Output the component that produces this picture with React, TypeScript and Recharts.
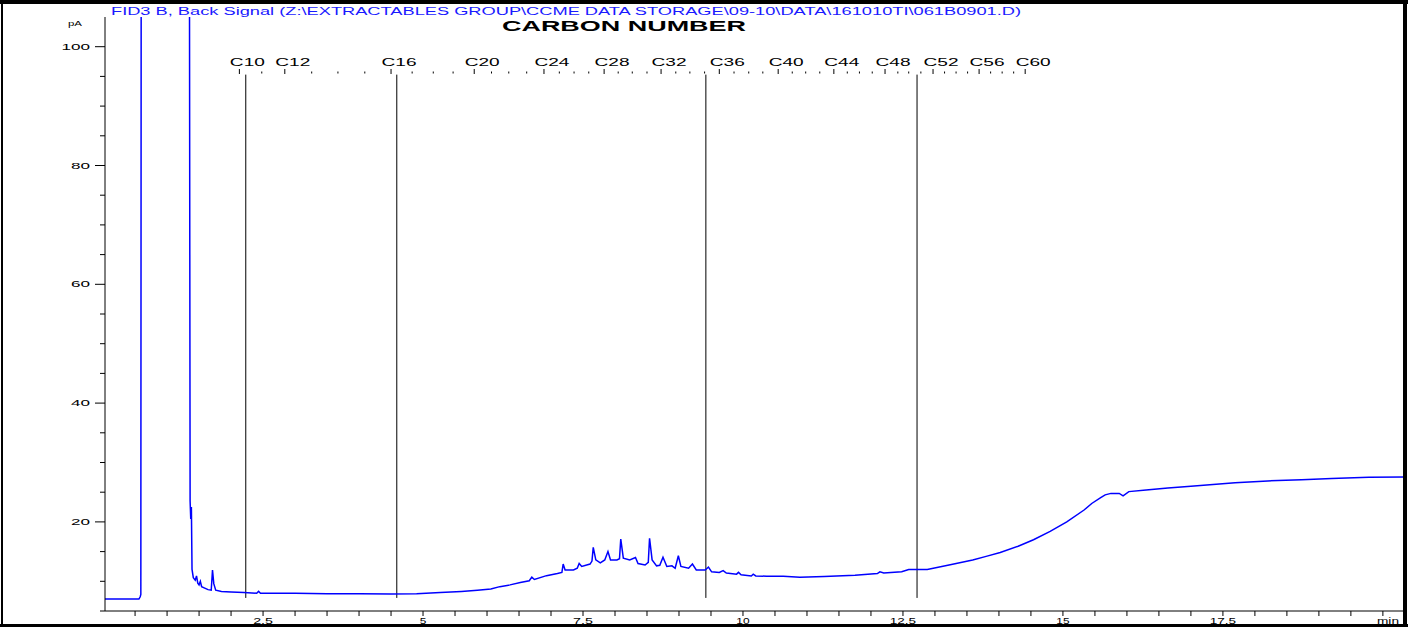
import React from 'react';
import { LineChart, Line, XAxis, YAxis, ReferenceLine } from 'recharts';

// Retention time (min) and FID signal (pA)
const times = [
  0.03, 0.30, 0.56, 0.58, 0.59, 0.60, 1.34, 1.36, 1.37, 1.38, 1.39, 1.41, 1.44, 1.46, 1.48, 1.50,
  1.52, 1.54, 1.58, 1.64, 1.69, 1.71, 1.73, 1.76, 1.85, 2.00, 2.20, 2.40, 2.43, 2.46, 2.70, 3.00,
  3.50, 4.00, 4.50, 4.90, 5.27, 5.60, 5.85, 6.06, 6.20, 6.36, 6.52, 6.66, 6.70, 6.74, 6.93, 7.10,
  7.17, 7.19, 7.22, 7.35, 7.41, 7.44, 7.48, 7.61, 7.64, 7.66, 7.70, 7.77, 7.84, 7.89, 7.93, 8.03,
  8.07, 8.09, 8.13, 8.23, 8.32, 8.36, 8.47, 8.52, 8.54, 8.58, 8.65, 8.70, 8.75, 8.81, 8.89, 8.94,
  8.99, 9.03, 9.15, 9.21, 9.27, 9.41, 9.46, 9.51, 9.63, 9.69, 9.74, 9.90, 9.93, 9.97, 10.13, 10.16,
  10.20, 10.37, 10.63, 10.89, 11.27, 11.75, 12.10, 12.14, 12.20, 12.48, 12.59, 12.88, 13.22, 13.59,
  13.80, 14.02, 14.30, 14.54, 14.80, 15.06, 15.33, 15.45, 15.59, 15.66, 15.75, 15.88, 15.94, 16.03,
  16.30, 16.64, 17.00, 17.69, 18.20, 18.73, 19.20, 19.78, 20.33,
];
const signal = [
  7.0, 7.0, 7.0, 7.4, 7.8, 200, 200, 23.5, 20.5, 22.5, 12.0, 10.6, 10.2, 10.9, 9.7, 9.4,
  10.0, 9.1, 8.9, 8.6, 8.5, 11.9, 9.6, 8.5, 8.3, 8.2, 8.1, 8.0, 8.3, 8.0, 8.0, 8.0,
  7.9, 7.9, 7.85, 7.9, 8.1, 8.3, 8.5, 8.7, 9.1, 9.4, 9.8, 10.1, 10.7, 10.3, 10.95, 11.3,
  11.5, 12.9, 11.9, 11.9, 12.2, 13.0, 12.5, 12.9, 13.4, 15.7, 13.6, 13.1, 13.6, 15.0, 13.6, 13.6,
  13.8, 17.1, 13.9, 13.6, 14.0, 13.0, 12.75, 13.2, 17.25, 13.6, 12.6, 12.7, 14.05, 12.5, 12.6, 12.2,
  14.3, 12.5, 12.2, 12.9, 11.9, 11.9, 12.4, 11.6, 11.5, 11.8, 11.4, 11.2, 11.5, 11.1, 10.9, 11.2,
  10.9, 10.85, 10.85, 10.7, 10.8, 11.0, 11.3, 11.6, 11.4, 11.6, 12.0, 12.0, 12.75, 13.6,
  14.2, 14.85, 15.9, 17.0, 18.4, 20.0, 22.0, 23.1, 24.1, 24.55, 24.8, 24.8, 24.4, 25.1,
  25.35, 25.7, 26.0, 26.6, 26.9, 27.1, 27.3, 27.5, 27.55,
];

const xTicks = [
  0.5, 1, 1.5, 2, 2.5, 3, 3.5, 4, 4.5, 5, 5.5, 6, 6.5, 7, 7.5, 8, 8.5, 9, 9.5, 10, 10.5, 11, 11.5, 12,
  12.5, 13, 13.5, 14, 14.5, 15, 15.5, 16, 16.5, 17, 17.5, 18, 18.5, 19, 19.5, 20,
];
const xLabels = [2.5, 5, 7.5, 10, 12.5, 15, 17.5];
const yTicks = [5, 10, 15, 20, 25, 30, 35, 40, 45, 50, 55, 60, 65, 70, 75, 80, 85, 90, 95, 100];
const yLabels = [20, 40, 60, 80, 100];

const carbonLabels = ['C10', 'C12', 'C16', 'C20', 'C24', 'C28', 'C32', 'C36', 'C40', 'C44', 'C48', 'C52', 'C56', 'C60'];
const carbonMajorTimes = [2.13, 2.84, 4.5, 5.8, 6.89, 7.83, 8.72, 9.63, 10.55, 11.42, 12.22, 12.97, 13.69, 14.41];
const carbonMinorTimes = [
  2.48, 3.26, 3.67, 4.09, 4.83, 5.16, 5.47, 6.07, 6.34, 6.62, 7.13, 7.36, 7.59, 8.05, 8.27, 8.5,
  8.95, 9.17, 9.4, 9.86, 10.09, 10.31, 10.77, 10.98, 11.2, 11.63, 11.82, 12.02, 12.42, 12.59, 12.78,
  13.15, 13.33, 13.51, 13.87, 14.05, 14.23,
];

const markerTimes = [2.23, 4.59, 9.42, 12.72];
const markerTop = 95.3;
const markerBottom = 7.2;

const data = times.map((t, i) => ({ t, v: signal[i] }));

const FONT = '"Liberation Sans", Arial, sans-serif';
const AXIS_X = 105;
const AXIS_Y = 611;

const YTick = (props: any) => {
  const { y, payload } = props;
  const v = payload.value;
  const major = yLabels.includes(v);
  const s = String(v);
  return (
    <g>
      <line x1={major ? AXIS_X - 10 : AXIS_X - 5} x2={AXIS_X} y1={y} y2={y} stroke="#000" strokeWidth={1} />
      {major && (
        <text x={AXIS_X - 15} y={y + 3} textAnchor="end" fontSize={9} fontFamily={FONT} fill="#000"
          textLength={s.length * 9.5} lengthAdjust="spacingAndGlyphs">{s}</text>
      )}
    </g>
  );
};

const XTick = (props: any) => {
  const { x, payload } = props;
  const v = payload.value;
  const major = xLabels.includes(v);
  const s = String(v);
  return (
    <g>
      <line x1={x} x2={x} y1={AXIS_Y} y2={AXIS_Y + 5} stroke="#000" strokeWidth={1} />
      {major && (
        <text x={x} y={AXIS_Y + 13} textAnchor="middle" fontSize={9} fontFamily={FONT} fill="#000"
          textLength={s.length * 6.6} lengthAdjust="spacingAndGlyphs">{s}</text>
      )}
    </g>
  );
};

const CarbonTick = (props: any) => {
  const { x, payload } = props;
  const idx = carbonMajorTimes.indexOf(payload.value);
  if (idx >= 0) {
    return (
      <g>
        <text x={x + 8} y={66} textAnchor="middle" fontSize={10.5} fontFamily={FONT} fill="#000"
          textLength={35} lengthAdjust="spacingAndGlyphs">{carbonLabels[idx]}</text>
        <line x1={x} x2={x} y1={69} y2={74} stroke="#000" strokeWidth={1} />
      </g>
    );
  }
  return <line x1={x} x2={x} y1={71.5} y2={73.5} stroke="#000" strokeWidth={1} />;
};

export default function App() {
  return (
    <div style={{ position: 'absolute', left: 0, top: 0, width: 1408, height: 627, background: '#fff' }}>
      <style>{'html,body{margin:0;padding:0;overflow:hidden;}'}</style>
      <LineChart width={1408} height={627} data={data} margin={{ top: 7, right: 4, bottom: 0, left: 45 }}>
        <XAxis xAxisId="carbon" orientation="top" type="number" dataKey="t" domain={[0.03, 20.33]}
          allowDataOverflow height={10} ticks={[...carbonMajorTimes, ...carbonMinorTimes]} interval={0}
          axisLine={false} tickLine={false} tick={<CarbonTick />} />
        <XAxis xAxisId="main" type="number" dataKey="t" domain={[0.03, 20.33]} allowDataOverflow
          height={16} ticks={xTicks} interval={0} tickLine={false} axisLine={{ stroke: '#000', strokeWidth: 1 }}
          tick={<XTick />} />
        <YAxis type="number" domain={[5, 105]} allowDataOverflow width={60} ticks={yTicks} interval={0}
          tickLine={false} axisLine={{ stroke: '#000', strokeWidth: 1 }} tick={<YTick />} />
        {markerTimes.map((m) => (
          <ReferenceLine key={m} xAxisId="main" segment={[{ x: m, y: markerTop }, { x: m, y: markerBottom }]}
            stroke="#000" strokeWidth={1} />
        ))}
        <Line xAxisId="main" type="linear" dataKey="v" stroke="#0000ff" strokeWidth={1.5} dot={false}
          isAnimationActive={false} />
      </LineChart>
      <svg width={1408} height={627} style={{ position: 'absolute', left: 0, top: 0, pointerEvents: 'none' }}>
        <text x={111} y={15} fontSize={10} fontFamily={FONT} fill="#1a1aff" textLength={910}
          lengthAdjust="spacingAndGlyphs">FID3 B, Back Signal (Z:\EXTRACTABLES GROUP\CCME DATA STORAGE\09-10\DATA\161010TI\061B0901.D)</text>
        <text x={502} y={31} fontSize={14} fontWeight="bold" fontFamily={FONT} fill="#000" textLength={244}
          lengthAdjust="spacingAndGlyphs">CARBON NUMBER</text>
        <text x={68} y={26} fontSize={8} fontFamily={FONT} fill="#000" textLength={14}
          lengthAdjust="spacingAndGlyphs">pA</text>
        <text x={1377} y={624} fontSize={9} fontFamily={FONT} fill="#000" textLength={22}
          lengthAdjust="spacingAndGlyphs">min</text>
        <rect x={0} y={0} width={1408} height={4} fill="#000" />
        <rect x={1} y={0} width={2} height={627} fill="#000" />
        <rect x={1403} y={0} width={4} height={627} fill="#000" />
        <rect x={0} y={624} width={1408} height={3} fill="#000" />
      </svg>
    </div>
  );
}
